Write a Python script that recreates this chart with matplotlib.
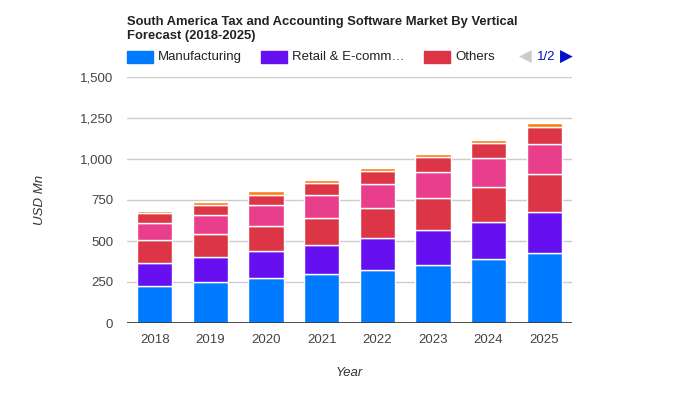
from matplotlib import pyplot as plt
from matplotlib.patches import Rectangle
import numpy as np

plt.rcParams['font.family'] = ['Liberation Sans', 'DejaVu Sans']

# values (USD Mn), bottom to top of each stack
years = ['2018', '2019', '2020', '2021', '2022', '2023', '2024', '2025']
manufacturing = [227, 248, 272, 297, 321, 352, 388, 425]
retail_ecomm = [140, 152, 165, 177, 195, 213, 226, 250]
others = [137, 141, 153, 164, 183, 195, 213, 232]
# series only listed on page 2 of the legend
page2_a = [104, 116, 128, 141, 147, 159, 177, 183]
page2_b = [61, 64, 64, 75, 79, 91, 92, 103]
page2_c = [16, 17, 21, 18, 20, 22, 22, 28]

series = [manufacturing, retail_ecomm, others, page2_a, page2_b, page2_c]
labels = ['Manufacturing', 'Retail & E-comm\u2026', 'Others', '', '', '']
colors = ['#007bff', '#6610f2', '#dc3545', '#e83e8c', '#dc3545', '#fd7e14']

fig = plt.figure(figsize=(7, 4), dpi=100)
ax = fig.add_axes([127 / 700, 1 - 323 / 400, 445 / 700, 246 / 400])

x = np.arange(len(years))
bottom = np.zeros(len(years))
for vals, col in zip(series, colors):
    ax.bar(x, vals, 0.635, bottom=bottom, color=col, edgecolor='white', linewidth=1, zorder=2)
    bottom += np.array(vals)

ax.set_xlim(-0.5, len(years) - 0.5)
ax.set_ylim(0, 1500)
ax.set_yticks(range(0, 1501, 250))
ax.set_yticklabels([f'{v:,}' for v in range(0, 1501, 250)])
ax.set_xticks(x)
ax.set_xticklabels(years)
ax.grid(axis='y', color='#cccccc', linewidth=1, zorder=0)
ax.axhline(0, color='#333333', linewidth=1.2, zorder=3)
for s in ax.spines.values():
    s.set_visible(False)
ax.tick_params(axis='both', length=0, labelsize=9.5, labelcolor='#444444')
ax.tick_params(axis='y', pad=10)
ax.tick_params(axis='x', pad=8)

ax.set_xlabel('Year', fontsize=9.5, style='italic', color='#333333', labelpad=15)
fig.text(40 / 700, 1 - 200 / 400, 'USD Mn', fontsize=9.5, style='italic', color='#333333',
         rotation=90, ha='center', va='center')

fig.text(127 / 700, 1 - 39 / 400, 'South America Tax and Accounting Software Market By Vertical\nForecast (2018-2025)',
         fontsize=9.35, fontweight='bold', color='#222222', va='baseline', ha='left', linespacing=1.25)

# legend (page 1 of 2)
legend_pos = [(127, 158), (261, 292), (424, 455)]
for (sx, tx), lab, col in zip(legend_pos, labels[:3], colors[:3]):
    fig.patches.append(Rectangle((sx / 700, 1 - 63 / 400), 26 / 700, 12 / 400,
                                 transform=fig.transFigure, color=col))
    fig.text(tx / 700, 1 - 57 / 400, lab, fontsize=9.5, color='#222222', va='center', ha='left')

fig.text(525 / 700, 1 - 57 / 400, '\u25c0', fontsize=12, color='#cccccc', va='center', ha='center',
         family='DejaVu Sans')
fig.text(546 / 700, 1 - 57 / 400, '1/2', fontsize=9.5, color='#0011cc', va='center', ha='center')
fig.text(566 / 700, 1 - 57 / 400, '\u25b6', fontsize=12, color='#0011cc', va='center', ha='center',
         family='DejaVu Sans')

fig.savefig('out.png', dpi=100)
